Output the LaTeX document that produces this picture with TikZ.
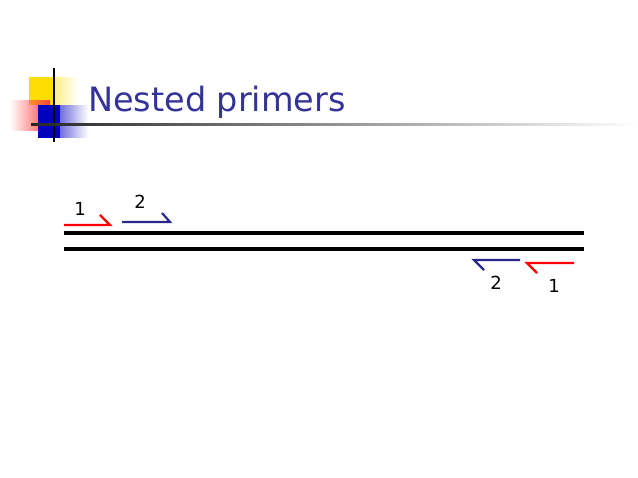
\documentclass[tikz,border=0pt]{standalone}
\usepackage{fontspec}
\setmainfont{DejaVu Sans}
\usetikzlibrary{fadings}
\definecolor{ttl}{RGB}{51,51,153}
\definecolor{pblue}{RGB}{40,40,140}
\begin{document}
\begin{tikzpicture}[x=1pt,y=-1pt,
  dna/.style={line width=3.8pt},
  prim/.style={line width=2.2pt},
  lbl/.style={font=\fontsize{18}{20}\selectfont, inner sep=0pt}]
\useasboundingbox (0,0) rectangle (638,478);
\fill[yellow!80!orange, path fading=east] (29,77) rectangle (78,105);
\fill[yellow!80!orange] (29,77) rectangle (54,105);
\fill[red!75, path fading=west] (10,100) rectangle (50,131);
\fill[blue!75!black, path fading=east] (38,105) rectangle (88,138);
\fill[blue!75!black] (38,105) rectangle (60,138);
\draw[line width=1.2pt] (54,68) -- (54,142);
\shade[left color=black!85, right color=white] (31,123.5) rectangle (638,125.5);
\node[anchor=base west, text=ttl, font=\fontsize{33.5}{36}\selectfont, inner sep=0pt] (title) at (88,112) {Nested primers};
\coordinate (t1) at (64,233); \coordinate (t2) at (584,233);
\coordinate (b1) at (64,249); \coordinate (b2) at (584,249);
\draw[dna] (t1) -- (t2);
\draw[dna] (b1) -- (b2);
\coordinate (r1s) at (64,225); \coordinate (r1e) at (110,225); \coordinate (r1h) at (100,215);
\draw[prim, red] (r1s) -- (r1e) -- (r1h);
\coordinate (b1s) at (122,222); \coordinate (b1e) at (170,222); \coordinate (b1h) at (162,213);
\draw[prim, pblue] (b1s) -- (b1e) -- (b1h);
\coordinate (b2s) at (520,260); \coordinate (b2e) at (474,260); \coordinate (b2h) at (484,270);
\draw[prim, pblue] (b2s) -- (b2e) -- (b2h);
\coordinate (r2s) at (574,263); \coordinate (r2e) at (527,263); \coordinate (r2h) at (537,273);
\draw[prim, red] (r2s) -- (r2e) -- (r2h);
\node[lbl] (l1) at (80,209) {1};
\node[lbl] (l2) at (140,202) {2};
\node[lbl] (l3) at (496,283) {2};
\node[lbl] (l4) at (554,286) {1};
\end{tikzpicture}
\end{document}
